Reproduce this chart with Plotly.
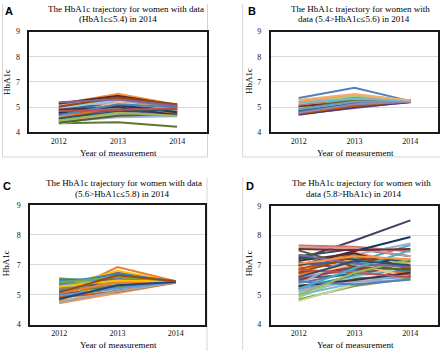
import plotly.graph_objects as go

W, H = 440, 356

years = ["2012", "2013", "2014"]

# y axis: evenly spaced gridlines labelled as in the original figure
y_tickvals = [4, 5, 6, 7, 8]
y_ticktext = ["4", "5", "7", "8", "9"]

# Panel A: HbA1c <= 5.4 in 2014  (2012, 2013, 2014) per woman
panel_a = [
    (4.62, 5.10, 4.95), (4.70, 5.22, 5.05), (4.40, 4.85, 4.80), (4.80, 5.05, 4.75),
    (4.95, 5.00, 5.05), (5.12, 5.53, 5.10), (4.85, 5.15, 4.90), (4.47, 5.21, 4.83),
    (4.36, 4.40, 4.22), (4.75, 5.30, 5.00), (5.00, 5.12, 4.98), (4.90, 5.35, 5.05),
    (5.18, 5.05, 5.12), (4.58, 4.92, 4.70), (4.34, 4.72, 4.78), (4.68, 4.80, 4.65),
    (5.05, 4.95, 4.88), (4.45, 4.70, 4.68), (4.88, 5.20, 4.92), (4.52, 4.98, 4.85),
    (5.08, 5.28, 5.02), (4.72, 4.88, 4.72), (4.95, 5.42, 5.08), (4.60, 5.00, 4.78),
    (4.42, 4.60, 4.64), (5.10, 5.15, 4.95), (4.83, 4.95, 4.85), (4.50, 4.75, 4.70),
    (4.98, 5.25, 5.10), (4.65, 5.18, 4.95), (4.78, 5.08, 4.80), (5.15, 5.45, 5.08),
    (4.38, 4.66, 4.74), (4.90, 5.00, 4.68), (4.55, 4.82, 4.92), (5.02, 5.38, 5.12),
    (4.68, 5.12, 5.00), (4.85, 4.90, 4.95), (4.47, 4.78, 4.66), (5.20, 5.30, 5.05),
]

# Panel B: 5.4 < HbA1c <= 5.6 in 2014
panel_b = [
    (5.36, 5.77, 5.24), (5.00, 5.28, 5.27), (4.95, 5.42, 5.25), (4.72, 4.98, 5.22),
    (4.88, 5.38, 5.24), (5.22, 5.48, 5.26), (4.80, 5.10, 5.21), (5.05, 5.20, 5.28),
    (4.90, 5.30, 5.25), (4.70, 5.00, 5.20), (4.85, 5.15, 5.23), (4.75, 5.05, 5.24),
    (4.92, 5.22, 5.22), (5.10, 5.35, 5.27), (5.15, 5.45, 5.26), (4.78, 5.12, 5.22),
    (5.18, 5.33, 5.25), (5.28, 5.52, 5.27),
]

# Panel C: 5.6 < HbA1c <= 5.8 in 2014
panel_c = [
    (5.20, 5.75, 5.43), (5.00, 5.93, 5.45), (4.85, 5.30, 5.42), (5.25, 5.80, 5.44),
    (5.10, 5.55, 5.43), (5.55, 5.40, 5.44), (5.42, 5.45, 5.43), (5.05, 5.15, 5.42),
    (4.95, 5.35, 5.43), (5.12, 5.40, 5.45), (4.88, 5.50, 5.44), (5.35, 5.38, 5.42),
    (5.30, 5.62, 5.45), (4.72, 5.05, 5.40), (4.78, 5.20, 5.41), (4.82, 5.45, 5.43),
    (5.18, 5.68, 5.44), (5.48, 5.35, 5.42), (5.00, 5.58, 5.44), (4.92, 5.10, 5.41),
    (5.22, 5.30, 5.43), (4.80, 5.58, 5.42), (5.38, 5.70, 5.45), (5.15, 5.25, 5.42),
    (5.50, 5.52, 5.44), (5.05, 5.42, 5.43), (4.75, 5.12, 5.41), (5.28, 5.48, 5.44),
    (4.98, 5.22, 5.42), (5.40, 5.60, 5.46), (4.86, 5.32, 5.43), (5.08, 5.65, 5.45),
]

# Panel D: HbA1c > 5.8 in 2014
panel_d = [
    (5.60, 5.85, 5.75), (5.90, 6.05, 5.95), (5.10, 5.60, 6.12), (5.40, 5.75, 5.70),
    (5.45, 6.10, 6.68), (5.95, 6.42, 6.05), (6.30, 6.55, 6.30), (5.75, 5.90, 5.85),
    (5.30, 5.55, 5.65), (6.20, 6.83, 7.51), (5.55, 5.70, 5.90), (5.85, 6.38, 5.80),
    (5.20, 5.50, 5.60), (6.66, 6.62, 6.46), (4.92, 5.66, 6.17), (5.65, 5.80, 5.55),
    (5.00, 5.40, 5.72), (5.80, 6.20, 5.95), (6.05, 6.10, 5.78), (5.50, 5.95, 5.65),
    (4.85, 5.30, 5.55), (6.10, 5.85, 5.62), (5.25, 5.65, 5.82), (5.70, 6.00, 5.70),
    (5.35, 6.35, 6.73), (6.60, 6.58, 6.30), (4.80, 5.35, 6.05), (5.15, 5.45, 5.50),
    (5.05, 5.60, 6.00), (5.60, 6.05, 5.60), (6.00, 6.47, 6.95), (6.15, 6.40, 5.90),
    (6.50, 5.95, 5.85), (5.30, 5.50, 5.75), (6.25, 6.20, 6.15), (5.75, 6.30, 5.88),
    (5.45, 5.35, 5.52), (5.85, 5.75, 5.60), (5.00, 5.75, 6.20), (6.35, 6.05, 5.95),
    (5.20, 5.90, 6.50), (6.05, 6.30, 6.20), (5.60, 6.15, 6.00), (6.55, 6.50, 6.55),
]

titles = [
    ("The HbA1c trajectory for women with data", "(HbA1c≤5.4) in 2014"),
    ("The HbA1c trajectory for women with", "data (5.4>HbA1c≤5.6) in 2014"),
    ("The HbA1c trajectory for women with data", "(5.6>HbA1c≤5.8) in 2014"),
    ("The HbA1c trajectory for women with", "data (5.8>HbA1c) in 2014"),
]
panel_letters = ["A", "B", "C", "D"]
x_title = "Year of measurement"
y_title = "HbA1c"

pal_2007 = [
    "#4F81BD", "#C0504D", "#9BBB59", "#8064A2", "#4BACC6", "#F79646",
    "#2C4D75", "#772C2A", "#5F7530", "#4D3B62", "#276A7C", "#B65708",
    "#729ACA", "#CD7371", "#AFC97A", "#9983B5", "#6FBDD1", "#F9AB6B",
    "#3A679C", "#9C3B38", "#7D9B41", "#664F85", "#3495B0", "#D9731F",
    "#95B3D7", "#D99694", "#C3D69B", "#B2A2C7", "#93CDDD", "#FAC090",
    "#17375E", "#632523", "#4F6228", "#3F3151", "#205867", "#974806",
]
pal_2013 = [
    "#4472C4", "#ED7D31", "#A5A5A5", "#FFC000", "#5B9BD5", "#70AD47",
    "#264478", "#9E480E", "#636363", "#997300", "#255E91", "#43682B",
    "#698ED0", "#F1975A", "#B7B7B7", "#FFCD33", "#7CAFDD", "#8CC168",
    "#335AA1", "#C65911", "#848484", "#CC9A00", "#3C7DC4", "#5A8A39",
]

# pixel layout of each panel's plotting frame: (left, right, top, bottom)
frames = [
    (29.3, 206.7, 28.3, 131.7),
    (270.7, 438.3, 28.3, 131.7),
    (30.0, 205.0, 206.3, 329.0),
    (270.7, 438.3, 207.0, 329.0),
]

fig = go.Figure()
serif = "Liberation Serif, Times New Roman, serif"
panels = [(panel_a, pal_2007), (panel_b, pal_2007), (panel_c, pal_2013), (panel_d, pal_2007)]

for k, (data, pal) in enumerate(panels):
    sfx = "" if k == 0 else str(k + 1)
    for i, row in enumerate(data):
        fig.add_trace(go.Scatter(
            x=years, y=list(row), mode="lines",
            line=dict(color=pal[i % len(pal)], width=2),
            xaxis="x" + sfx, yaxis="y" + sfx, showlegend=False, hoverinfo="skip",
        ))
    l, r, t, b = frames[k]
    fig.update_layout(**{
        "xaxis" + sfx: dict(
            domain=[l / W, r / W], anchor="y" + sfx, type="category",
            range=[-0.5, 2.5], showgrid=False, zeroline=False,
            showline=True, linecolor="#1a1a1a", linewidth=1.5, mirror=True,
            ticks="", tickfont=dict(family=serif, size=8, color="#111"),
        ),
        "yaxis" + sfx: dict(
            domain=[1 - b / H, 1 - t / H], anchor="x" + sfx,
            range=[4, 8], tickvals=y_tickvals, ticktext=y_ticktext,
            showgrid=True, gridcolor="#d9d9d9", gridwidth=1, zeroline=False,
            showline=True, linecolor="#1a1a1a", linewidth=1.5, mirror=True,
            ticks="", ticklabelstandoff=6,
            tickfont=dict(family=serif, size=8, color="#111"),
        ),
    })

ann = []

def txt(x, y, s, size=9, angle=0, family=serif):
    ann.append(dict(
        x=x / W, y=1 - y / H, xref="paper", yref="paper", text=s,
        showarrow=False, xanchor="center", yanchor="middle", textangle=angle,
        font=dict(family=family, size=size, color="#000"),
    ))

title_pos = [
    ((125.5, 5.5), (117.5, 15.5)),
    ((360.5, 5.5), (353.8, 15.5)),
    ((124.3, 184.0), (122.0, 194.5)),
    ((361.0, 184.0), (353.8, 194.5)),
]
letter_pos = [(9, 7), (252, 7), (7, 187), (250, 187)]
xt_pos = [(118, 153), (355, 153), (118, 350), (355, 350)]
yt_pos = [(7, 80), (249, 79), (6, 266), (249, 266)]

for k in range(4):
    (x1, y1), (x2, y2) = title_pos[k]
    txt(x1, y1, titles[k][0], size=9)
    txt(x2, y2, titles[k][1], size=9)
    lx, ly = letter_pos[k]
    txt(lx, ly, "<b>" + panel_letters[k] + "</b>", size=11,
        family="Liberation Sans, Arial, sans-serif")
    txt(*xt_pos[k], x_title, size=9)
    txt(*yt_pos[k], y_title, size=9, angle=-90)

fig.update_layout(annotations=ann)

# light grey panel borders
border = "#d4d4d4"
segs = [
    (2.5, 0, 2.5, 157), (207.5, 0, 207.5, 157), (2.5, 157, 207.5, 157),
    (242.7, 0, 242.7, 157), (242.7, 157, 440, 157),
    (207.0, 178, 207.0, 356),
    (242.7, 178, 242.7, 355),
]
shapes = []
for x0, y0, x1, y1 in segs:
    shapes.append(dict(type="line", xref="paper", yref="paper",
                       x0=x0 / W, y0=1 - y0 / H, x1=x1 / W, y1=1 - y1 / H,
                       line=dict(color=border, width=1), layer="below"))
fig.update_layout(shapes=shapes)

fig.update_layout(
    width=W, height=H, margin=dict(l=0, r=0, t=0, b=0),
    paper_bgcolor="white", plot_bgcolor="white",
)

fig.write_html(
    "out.html",
    config={"displayModeBar": False},
    post_script="document.body.style.margin='0';document.body.style.overflow='hidden';",
)
